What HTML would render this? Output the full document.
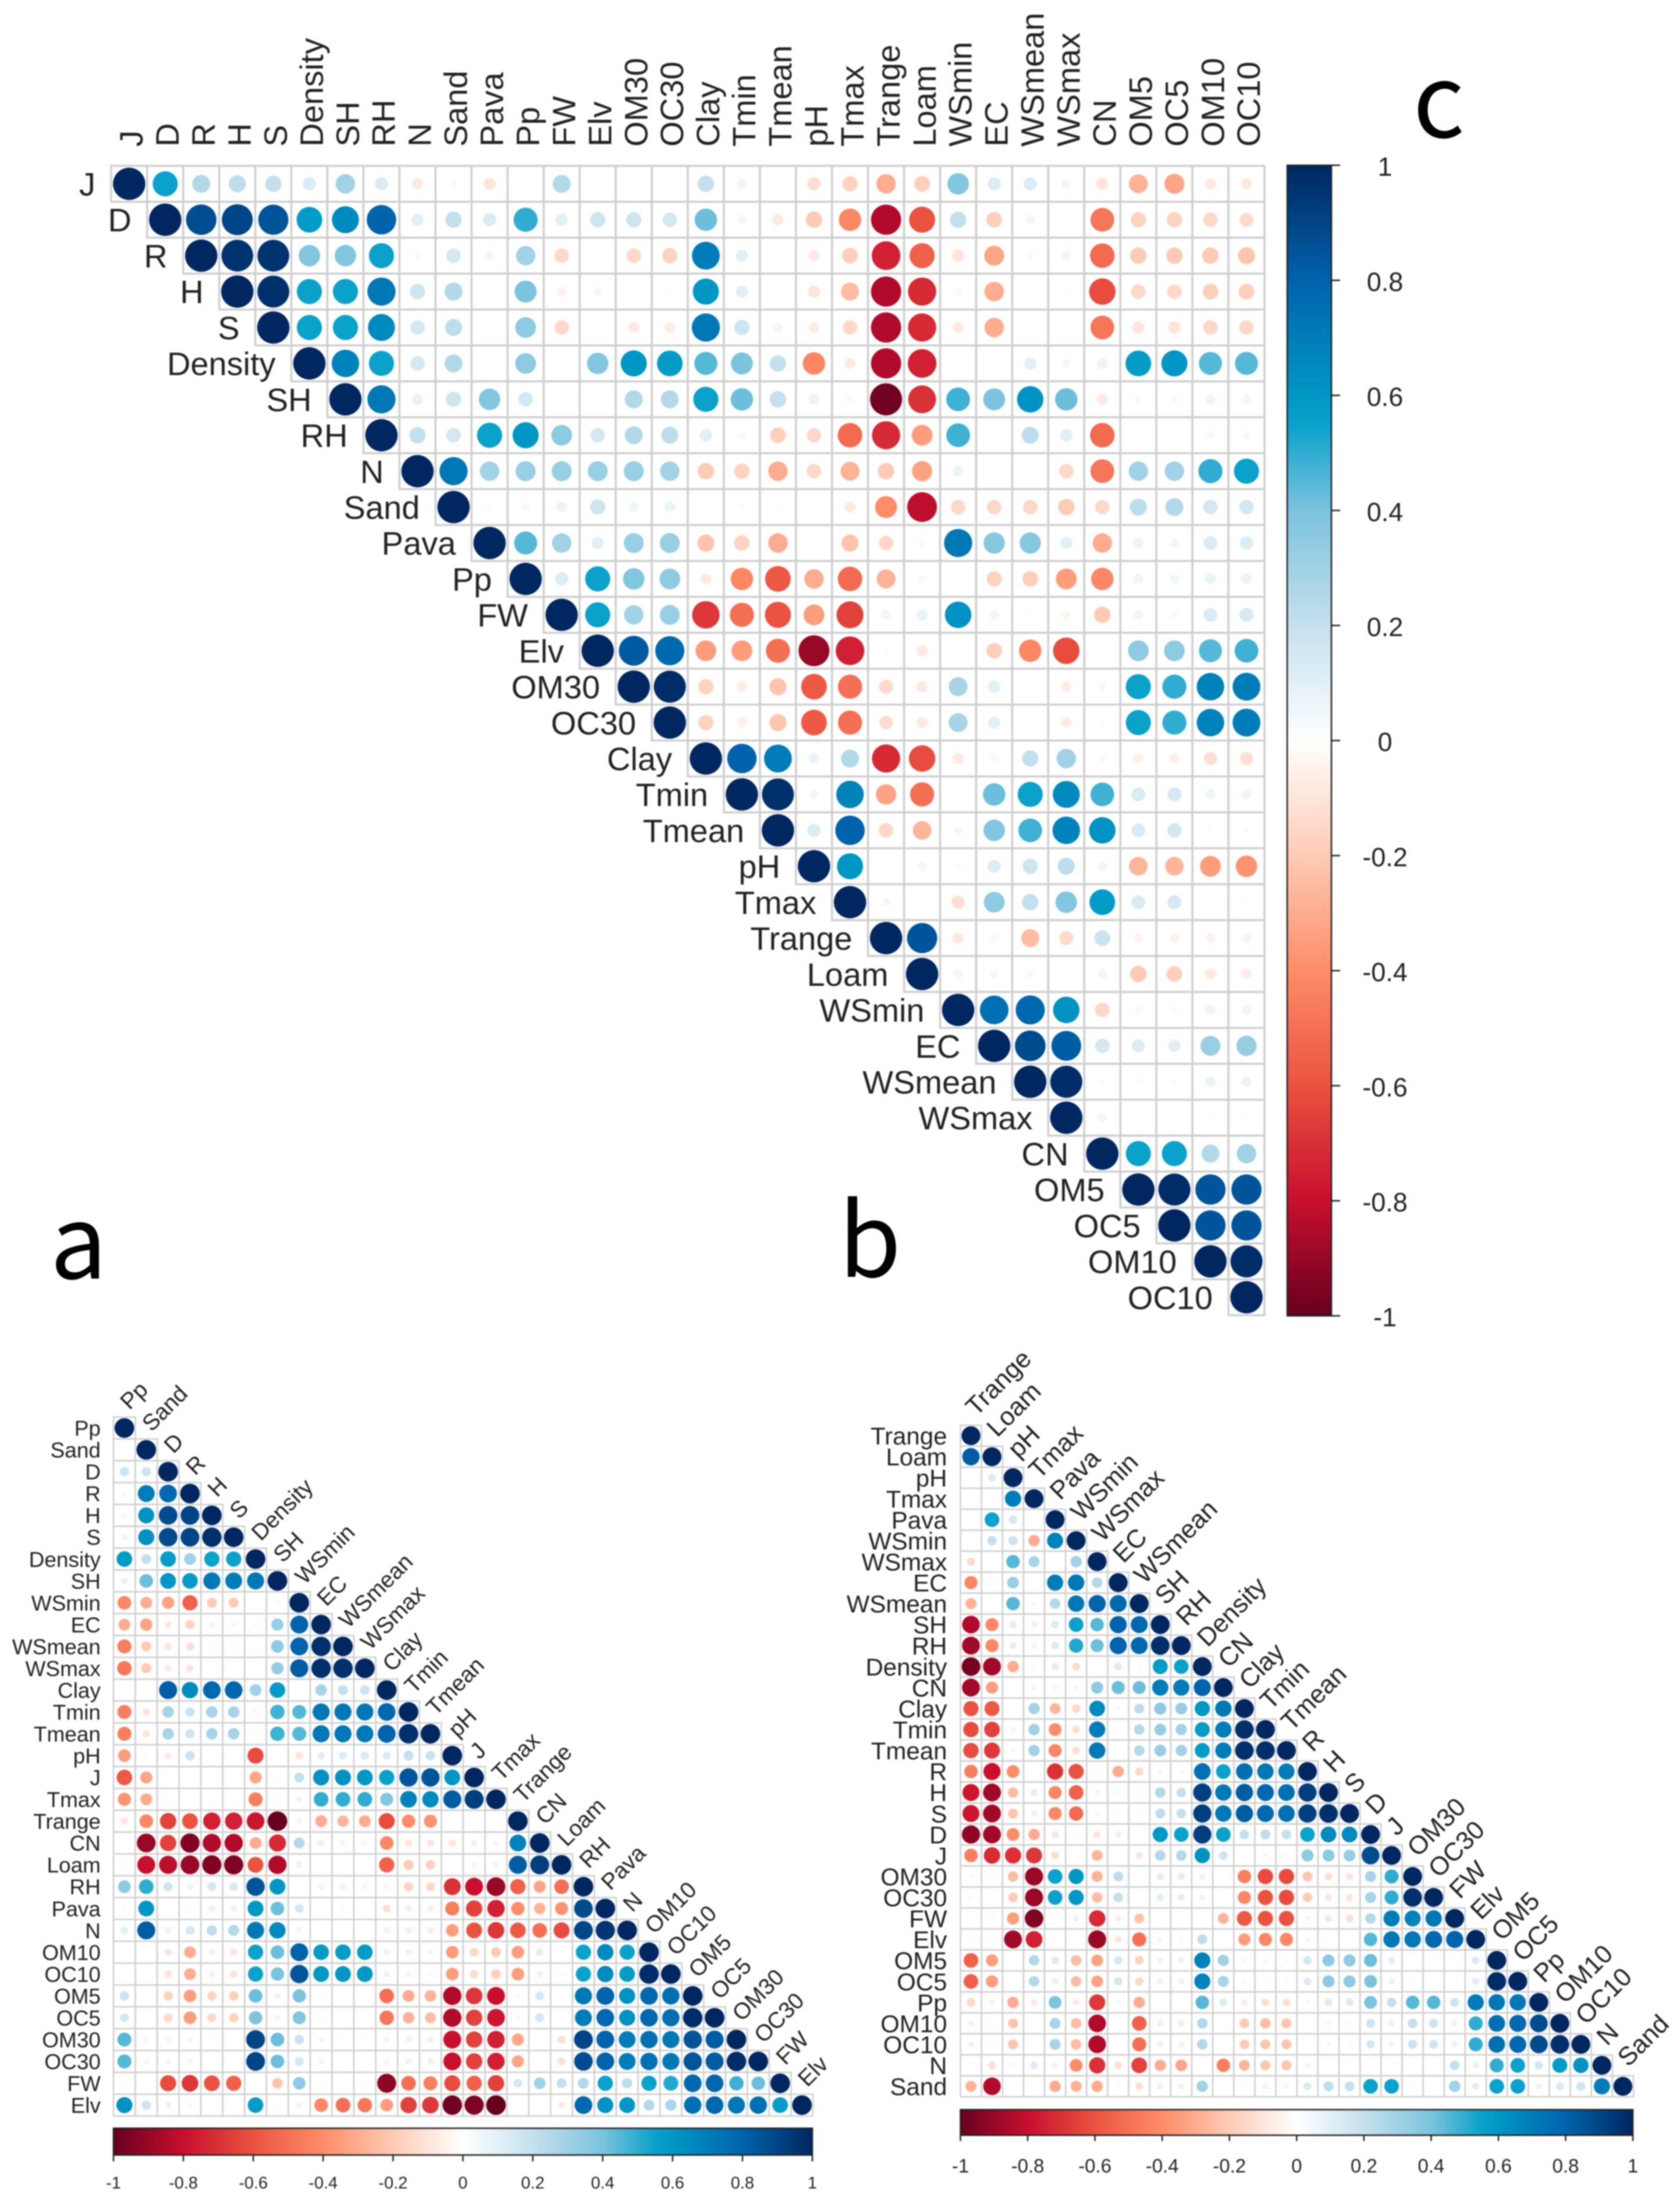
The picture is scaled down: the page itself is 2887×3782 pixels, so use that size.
<!DOCTYPE html>
<html lang="en">
<head>
<meta charset="utf-8">
<title>Correlation plots a, b and c</title>
<style>
html,body{margin:0;padding:0;background:#fff;width:2887px;height:3782px;overflow:hidden}
svg{display:block;filter:blur(1.1px)}
text{font-family:"Liberation Sans",sans-serif;fill:#222}
.letter{font-family:"Noto Sans CJK JP","Liberation Sans",sans-serif;fill:#000;font-size:174px}
</style>
</head>
<body>
<svg id="figure" xmlns="http://www.w3.org/2000/svg" width="2887" height="3782" viewBox="0 0 2887 3782">
<defs id="defs"></defs>
<rect x="0" y="0" width="2887" height="3782" fill="#fff"/>
<text class="letter" x="86" y="2197">a</text>
<text class="letter" x="1441" y="2194">b</text>
<text class="letter" x="2428" y="236">c</text>
<g id="panels"></g>
</svg>
<script>
const legendTicks = [-1,-0.8,-0.6,-0.4,-0.2,0,0.2,0.4,0.6,0.8,1];
const legendTickLabels = ["-1","-0.8","-0.6","-0.4","-0.2","0","0.2","0.4","0.6","0.8","1"];
const paletteValues = [-1,-0.8,-0.6,-0.4,-0.2,0,0.2,0.4,0.55,0.6,0.8,1];
const paletteColors = ["#67001f","#c80f2e","#ea5340","#fd8d68","#fecbb5","#ffffff","#c5e0ed","#7cc3de","#0aa1ca","#0097c4","#0063ac","#002760"];

const variablesC = ["J","D","R","H","S","Density","SH","RH","N","Sand","Pava","Pp","FW","Elv","OM30","OC30","Clay","Tmin","Tmean","pH","Tmax","Trange","Loam","WSmin","EC","WSmean","WSmax","CN","OM5","OC5","OM10","OC10"];
const variablesA = ["Pp","Sand","D","R","H","S","Density","SH","WSmin","EC","WSmean","WSmax","Clay","Tmin","Tmean","pH","J","Tmax","Trange","CN","Loam","RH","Pava","N","OM10","OC10","OM5","OC5","OM30","OC30","FW","Elv"];
const variablesB = ["Trange","Loam","pH","Tmax","Pava","WSmin","WSmax","EC","WSmean","SH","RH","Density","CN","Clay","Tmin","Tmean","R","H","S","D","J","OM30","OC30","FW","Elv","OM5","OC5","Pp","OM10","OC10","N","Sand"];

/* Panel c: upper triangle, each row starts on the diagonal */
const correlationsC = [
[1,.55,.25,.22,.2,.12,.3,.12,-.08,.03,-.1,0,.25,0,.01,0,.2,.06,.01,-.12,-.17,-.3,-.18,.38,.12,.12,.05,-.1,-.28,-.32,-.08,-.08],
[1,.87,.9,.85,.58,.65,.8,.1,.2,.12,.5,.1,.17,.17,.15,.42,.05,-.08,-.2,-.42,-.85,-.6,.2,-.18,.05,0,-.48,-.17,-.17,-.15,-.14],
[1,.96,.96,.38,.38,.55,.03,.15,-.05,.3,-.15,0,-.15,-.17,.7,.1,0,-.08,-.18,-.75,-.55,-.1,-.32,-.03,-.05,-.52,-.2,-.2,-.2,-.22],
[1,.97,.55,.55,.72,.17,.25,.01,.4,-.05,.04,-.01,-.01,.6,.1,0,-.1,-.25,-.85,-.72,-.03,-.3,0,-.01,-.62,-.15,-.15,-.18,-.18],
[1,.55,.55,.65,.15,.22,0,.35,-.15,0,-.08,-.07,.72,.17,.05,-.07,-.15,-.85,-.72,-.08,-.3,0,0,-.48,-.1,-.1,-.15,-.15],
[1,.68,.55,.15,.25,0,.35,0,.38,.6,.58,.45,.4,.2,-.42,-.08,-.85,-.75,0,0,.1,.04,.07,.58,.6,.45,.45],
[1,.72,.08,.17,.38,.15,0,0,.25,.25,.55,.42,.2,.07,-.03,-.98,-.7,.48,.4,.62,.42,-.08,.03,.03,.06,.05],
[1,.2,.15,.55,.6,.35,.15,.25,.22,.1,-.03,-.18,-.15,-.52,-.72,-.35,.48,0,.22,.1,-.52,0,0,-.03,-.03],
[1,.72,.3,.32,.32,.32,.32,.3,-.2,-.17,-.3,-.15,-.28,-.2,-.33,.07,0,0,-.15,-.48,.3,.3,.5,.55],
[1,.02,.04,.07,.17,.06,.07,0,.02,.01,0,-.08,-.4,-.82,-.15,-.15,-.15,-.2,-.15,.22,.25,.15,.15],
[1,.45,.3,.1,.32,.32,-.22,-.17,-.3,0,-.22,-.15,.03,.72,.37,.37,.1,-.3,.07,.05,.13,.12],
[1,.12,.55,.38,.35,-.08,-.42,-.58,-.3,-.52,-.28,-.03,0,-.17,-.18,-.35,-.42,.06,.05,.07,.07],
[1,.55,.3,.32,-.68,-.5,-.6,-.35,-.65,.05,.08,.62,.05,.01,-.04,-.2,.05,.03,.13,.14],
[1,.83,.78,-.35,-.35,-.5,-.9,-.75,-.02,-.08,0,-.18,-.42,-.62,0,.35,.35,.45,.48],
[1,.98,-.17,-.07,-.22,-.58,-.5,-.14,-.08,.28,.1,0,-.07,.03,.55,.5,.68,.7],
[1,-.17,-.06,-.22,-.58,-.5,-.13,-.08,.28,.1,0,-.07,.02,.55,.5,.68,.7],
[1,.8,.7,.07,.25,-.72,-.62,-.08,.03,.2,.3,.03,-.06,-.06,-.12,-.12],
[1,.97,.05,.68,-.33,-.5,0,.42,.55,.65,.48,.13,.14,.06,.06],
[1,.12,.8,-.15,-.27,-.04,.38,.48,.68,.62,.13,.15,.02,.02],
[1,.6,0,.05,-.02,.12,.17,.22,-.05,-.27,-.27,-.35,-.38],
[1,.04,0,-.12,.35,.2,.38,.58,.13,.14,0,.01],
[1,.85,-.08,-.03,-.25,-.14,.18,-.05,-.05,-.05,-.05],
[1,.05,.04,-.03,0,.05,-.2,-.18,-.08,-.07],
[1,.75,.78,.62,-.15,-.03,-.02,.06,.06],
[1,.88,.82,.15,.12,.1,.32,.33],
[1,.98,.02,.02,.02,.07,.07],
[1,.05,0,0,.01,.01],
[1,.55,.55,.25,.3],
[1,.98,.85,.85],
[1,.85,.85],
[1,.98],
[1]
];

/* Panel a: lower triangle, each row ends on the diagonal */
const correlationsA = [
[1],
[0,1],
[.17,.17,1],
[.04,.7,.78,1],
[.05,.62,.88,.9,1],
[.06,.62,.88,.9,.97,1],
[.58,.2,.58,.3,.55,.55,1],
[.08,.42,.6,.58,.72,.7,.72,1],
[-.42,-.3,-.33,-.55,-.2,-.2,0,.03,1],
[-.3,-.33,-.08,-.17,-.05,-.04,.03,.32,.8,1],
[-.45,-.2,-.1,-.12,-.02,-.02,0,.35,.8,.97,1],
[-.48,-.2,-.08,-.1,-.01,-.01,0,.33,.82,.97,.97,1],
[0,0,.82,.65,.78,.78,.3,.58,0,.28,.2,.18,1],
[-.45,-.1,.28,.18,.28,.28,.03,.48,.45,.72,.72,.72,.78,1],
[-.45,-.1,.28,.17,.28,.28,.02,.48,.45,.72,.72,.72,.8,.97,1],
[-.35,.03,-.08,.18,0,0,-.62,0,-.1,.1,.12,.13,.12,.2,.18,1],
[-.58,-.32,0,0,0,0,-.32,.01,.2,.62,.62,.6,.55,.85,.85,.6,1],
[-.38,-.3,-.02,0,-.01,-.01,-.45,-.02,.06,.5,.5,.5,.38,.68,.65,.82,.92,1],
[-.1,-.42,-.65,-.6,-.75,-.75,-.78,-1,-.05,-.3,-.27,-.3,-.62,-.4,-.38,0,-.01,-.01,1],
[0,-.9,-.65,-.95,-.85,-.85,-.3,-.72,.25,.08,.05,.04,-.42,-.1,-.1,-.1,.07,.05,.68,1],
[-.03,-.8,-.82,-.9,-.95,-.95,-.6,-.85,.07,0,0,0,-.55,-.2,-.18,0,.05,.06,.82,.92,1],
[.35,.5,.17,.07,.15,.14,.85,.6,.01,-.06,-.06,-.04,-.04,-.17,-.15,-.7,-.8,-.9,-.55,-.32,-.5,1],
[.02,.6,0,.02,.07,.07,.6,.42,.15,0,.02,.01,-.12,-.07,-.07,-.45,-.65,-.75,-.4,-.28,-.38,.88,1],
[.1,.82,.07,.15,.22,.25,.72,.65,.06,0,0,0,-.06,-.07,-.07,-.35,-.6,-.68,-.58,-.5,-.62,.9,.95,1],
[.02,0,-.1,-.3,-.07,-.1,.55,.42,.8,.58,.58,.58,-.06,.07,.05,-.35,-.15,-.2,-.35,.1,-.01,.55,.65,.55,1],
[.01,0,-.1,-.3,-.07,-.1,.55,.4,.85,.6,.6,.6,-.06,.06,.03,-.35,-.13,-.18,-.35,.07,-.02,.55,.65,.58,.98,1],
[.17,0,-.17,-.35,-.17,-.18,.42,.07,.4,.02,.01,0,-.5,-.3,-.28,-.85,-.68,-.8,-.03,.15,-.01,.72,.8,.62,.78,.75,1],
[.15,0,-.15,-.35,-.15,-.17,.4,.06,.38,.02,0,0,-.48,-.28,-.25,-.85,-.65,-.78,-.03,.15,-.01,.7,.78,.62,.78,.75,.98,1],
[.45,.05,.05,-.05,.02,.01,.9,.42,.18,.05,.02,.02,-.05,-.07,-.07,-.8,-.65,-.75,-.32,0,-.12,.9,.8,.7,.75,.72,.85,.82,1],
[.45,.05,.05,-.05,.02,.01,.9,.42,.15,.05,.02,.02,-.04,-.07,-.07,-.8,-.65,-.75,-.32,0,-.12,.88,.8,.7,.75,.72,.85,.82,.98,1],
[-.03,0,-.62,-.68,-.6,-.55,0,-.22,.35,-.02,-.01,-.01,-.92,-.5,-.45,-.62,-.55,-.65,.15,.3,.2,.25,.55,.22,.55,.52,.78,.78,.48,.42,1],
[.62,.17,.07,-.04,0,0,.58,.01,-.05,-.42,-.5,-.48,-.35,-.65,-.68,-.98,-.95,-1,0,0,-.08,.78,.62,.6,.25,.27,.75,.78,.72,.75,.58,1]
];

/* Panel b: lower triangle, each row ends on the diagonal */
const correlationsB = [
[1],
[.82,1],
[0,.12,1],
[0,0,.7,1],
[0,.55,.15,.01,1],
[0,.2,.18,-.3,.68,1],
[-.14,.01,.45,.28,.01,.3,1],
[-.42,.02,.32,0,.7,.72,.25,1],
[-.28,0,.45,.03,.25,.72,.8,.78,1],
[-.85,-.42,.1,-.07,.12,.55,.45,.8,.78,1],
[-.88,-.42,.1,-.06,.12,.52,.42,.8,.78,.97,1],
[-.97,-.88,-.3,-.02,-.1,-.13,0,.12,.02,.58,.55,1],
[-.88,-.35,-.01,.05,.05,.05,.35,.42,.42,.7,.7,.8,1],
[-.6,-.58,0,.3,-.27,-.15,.65,.03,.22,.35,.33,.6,.72,1],
[-.62,-.65,.05,.3,-.4,-.12,.7,0,.25,.33,.3,.58,.7,.97,1],
[-.62,-.68,.04,.3,-.42,-.12,.72,0,.25,.33,.3,.58,.7,.97,.97,1],
[-.45,-.8,-.4,0,-.7,-.6,.01,-.3,-.15,.04,.04,.75,.55,.75,.72,.7,1],
[-.78,-.88,-.25,.1,-.42,-.55,.05,-.03,-.02,.25,.2,.92,.72,.82,.78,.75,.92,1],
[-.78,-.88,-.22,.07,-.42,-.52,.04,-.02,-.02,.22,.2,.92,.72,.82,.78,.75,.92,.97,1],
[-.92,-.88,-.4,-.3,-.1,-.02,-.1,.08,-.01,.6,.55,.92,.55,.2,.22,.2,.55,.65,.65,1],
[-.45,-.72,-.7,-.68,-.13,0,-.27,-.02,-.1,.25,.25,.62,.17,.02,.04,.03,.35,.35,.33,.88,1],
[-.04,.02,-.25,-.9,.55,.6,-.28,.22,-.01,.1,.1,.07,0,-.45,-.62,-.62,-.22,-.12,-.1,.28,.5,1],
[-.03,.01,-.2,-.9,.55,.6,-.25,.2,-.01,.1,.1,.07,0,-.42,-.6,-.62,-.2,-.1,-.1,.28,.5,.97,1],
[0,-.03,-.35,-.95,.01,.07,-.72,-.07,-.22,0,0,.01,-.27,-.58,-.6,-.6,-.05,-.1,-.12,.25,.7,.68,.72,1],
[-.01,-.03,-.88,-.75,.01,0,-.9,-.1,-.5,-.05,-.03,.22,-.01,-.35,-.42,-.42,.05,.01,.01,.45,.72,.72,.78,.8,1],
[-.55,-.35,0,.25,.12,-.25,-.33,.15,-.17,.07,.07,.68,.3,.04,.03,.03,.15,.35,.35,.42,.1,.01,.01,0,.12,1],
[-.55,-.35,0,.25,.08,-.25,-.33,.15,-.15,.07,.07,.68,.28,.04,.02,.03,.12,.35,.35,.4,.08,.01,.01,0,.1,.98,1],
[-.15,-.05,-.3,-.08,.4,-.08,-.68,.04,-.3,0,0,.45,.12,-.08,-.12,-.12,.04,.12,.12,.4,.2,.45,.45,.17,.7,.72,.72,1],
[-.06,-.02,-.22,0,.28,-.25,-.85,-.01,-.55,-.07,-.08,.25,0,-.2,-.25,-.22,0,.04,.03,.17,.07,.2,.17,.07,.5,.75,.78,.88,1],
[-.06,-.02,-.22,0,.28,-.25,-.85,0,-.5,-.07,-.06,.25,0,-.2,-.22,-.22,0,.03,.03,.15,.06,.18,.17,.07,.5,.75,.78,.88,.97,1],
[-.01,-.12,.03,.12,-.06,-.4,-.7,-.12,-.65,-.3,-.32,0,-.45,-.27,-.22,-.22,-.05,-.01,-.01,-.01,.01,0,0,.2,.08,.5,.55,.15,.58,.62,1],
[-.28,-.85,0,0,-.3,-.28,-.3,-.02,-.12,.07,.07,.3,-.01,-.01,.06,.05,.13,.22,.2,.55,.55,.01,0,.3,.1,.55,.55,.07,.13,.17,.7,1]
];

const SVGNS = "http://www.w3.org/2000/svg";
const root = document.getElementById("panels");
const defs = document.getElementById("defs");

function make(tag, attrs, parent) {
  const el = document.createElementNS(SVGNS, tag);
  for (const key in attrs) el.setAttribute(key, attrs[key]);
  parent.appendChild(el);
  return el;
}
function hexToRgb(hex) {
  return [1,3,5].map(function (p) { return parseInt(hex.slice(p, p + 2), 16); });
}
function colorOf(v) {
  const c = Math.max(-1, Math.min(1, v));
  let i = 0;
  while (i < paletteValues.length - 2 && c > paletteValues[i + 1]) i++;
  const t = (c - paletteValues[i]) / (paletteValues[i + 1] - paletteValues[i]);
  const a = hexToRgb(paletteColors[i]);
  const b = hexToRgb(paletteColors[i + 1]);
  return "rgb(" + a.map(function (q, n) { return Math.round(q + (b[n] - q) * t); }).join(",") + ")";
}
function addGradient(id, vertical) {
  const grad = make("linearGradient", {id: id, x1: 0, y1: vertical ? 1 : 0, x2: vertical ? 0 : 1, y2: 0}, defs);
  for (let n = 0; n < paletteValues.length; n++) {
    make("stop", {offset: (paletteValues[n] + 1) / 2, "stop-color": paletteColors[n]}, grad);
  }
}
addGradient("legend-horizontal", false);
addGradient("legend-vertical", true);

function drawPanel(p) {
  const g = make("g", {}, root);
  
  
  const n = p.names.length;
  const cellW = (p.right - p.left) / n;
  const cellH = (p.bottom - p.top) / n;
  const xAxis = function (col) { return p.left + cellW * col; };
  const yAxis = function (row) { return p.top + cellH * row; };
  const radius = function (v) { return 0.45 * Math.pow(Math.abs(v), 0.42) * Math.min(cellW, cellH); };
  const firstCol = function (row) { return p.upper ? row : 0; };

  p.values.forEach(function (rowValues, row) {
    rowValues.forEach(function (v, idx) {
      const col = firstCol(row) + idx;
      const cell = make("rect", {x: xAxis(col), y: yAxis(row), width: cellW, height: cellH, fill: "#fff", stroke: "#cfcfcf", "stroke-width": p.gridWidth}, g);
      
      
    });
  });
  p.values.forEach(function (rowValues, row) {
    rowValues.forEach(function (v, idx) {
      const col = firstCol(row) + idx;
      const dot = make("circle", {cx: xAxis(col + 0.5), cy: yAxis(row + 0.5), r: radius(v), fill: colorOf(v)}, g);
      
      
    });
  });
  p.names.forEach(function (name, i) {
    const rowRight = p.upper ? xAxis(i) - p.rowGap : p.left - p.rowGap;
    const rowLabel = make("text", {x: rowRight, y: yAxis(i + 0.5), dy: "0.36em", "text-anchor": "end", "font-size": p.labelSize}, g);
    rowLabel.textContent = name;
    
    
    const colX = xAxis(i + 0.5) + p.colDx;
    const colY = (p.upper ? p.top : yAxis(i)) + p.colDy;
    const colLabel = make("text", {transform: "translate(" + colX + " " + colY + ") rotate(" + p.colAngle + ")", dy: p.colBaseline, "text-anchor": "start", "font-size": p.colSize}, g);
    colLabel.textContent = name;
    
    
  });

  const lg = p.legend;
  const legendPos = function (v) {
    return lg.vertical ? lg.end + (lg.start - lg.end) * (v + 1) / 2 : lg.start + (lg.end - lg.start) * (v + 1) / 2;
  };
  const bar = lg.vertical
    ? make("rect", {x: lg.near, y: lg.start, width: lg.far - lg.near, height: lg.end - lg.start, fill: "url(#legend-vertical)", stroke: "#222", "stroke-width": 2.5}, g)
    : make("rect", {x: lg.start, y: lg.near, width: lg.end - lg.start, height: lg.far - lg.near, fill: "url(#legend-horizontal)", stroke: "#222", "stroke-width": 2.5}, g);
  
  
  legendTicks.forEach(function (v, i) {
    const pos = legendPos(v);
    const tick = lg.vertical
      ? make("line", {x1: lg.far, x2: lg.far + lg.tick, y1: pos, y2: pos, stroke: "#222", "stroke-width": 2.5}, g)
      : make("line", {y1: lg.far, y2: lg.far + lg.tick, x1: pos, x2: pos, stroke: "#222", "stroke-width": 2.5}, g);
    
    
    const label = make("text", lg.vertical
      ? {x: lg.labelAt, y: pos + 2, dy: "0.36em", "text-anchor": "middle", "font-size": lg.size}
      : {x: pos, y: lg.labelAt, dy: "0.36em", "text-anchor": "middle", "font-size": lg.size}, g);
    label.textContent = legendTickLabels[i];
    
    
  });
}

drawPanel({key: "c", names: variablesC, values: correlationsC, upper: true,
  left: 191, right: 2173, top: 285, bottom: 2260, gridWidth: 3.5, labelSize: 56, colSize: 56, rowGap: 27,
  colDx: 3, colDy: -33, colAngle: -90, colBaseline: "0.36em",
  legend: {vertical: true, start: 284, end: 2261, near: 2212, far: 2288, tick: 15, labelAt: 2380, size: 45}});
drawPanel({key: "a", names: variablesA, values: correlationsA, upper: false,
  left: 195, right: 1397, top: 2435, bottom: 3636, gridWidth: 2.5, labelSize: 37, colSize: 39, rowGap: 22,
  colDx: 9, colDy: -11, colAngle: -45, colBaseline: "0",
  legend: {vertical: false, start: 195, end: 1396, near: 3657, far: 3703, tick: 11, labelAt: 3750, size: 29}});
drawPanel({key: "b", names: variablesB, values: correlationsB, upper: false,
  left: 1650.5, right: 2807, top: 2449, bottom: 3603, gridWidth: 2.5, labelSize: 42, colSize: 44, rowGap: 23,
  colDx: 9, colDy: -14, colAngle: -45, colBaseline: "0",
  legend: {vertical: false, start: 1650.5, end: 2806, near: 3625, far: 3669, tick: 10, labelAt: 3721, size: 33}});
</script>
</body>
</html>
